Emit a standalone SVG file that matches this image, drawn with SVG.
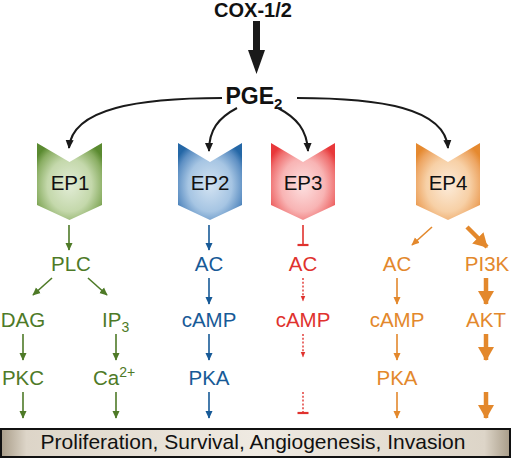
<svg xmlns="http://www.w3.org/2000/svg" width="511" height="458" viewBox="0 0 511 458">
<defs>
<style>
text{font-family:"Liberation Sans",Arial,sans-serif;}
.t{font-size:20.5px;text-anchor:middle;}
.g{fill:#4e7a27}.b{fill:#175a97}.r{fill:#e0322e}.o{fill:#e3882c}
.lg{stroke:#4e7a27;stroke-width:1.6;fill:none;marker-end:url(#ag)}
.lb{stroke:#175a97;stroke-width:1.6;fill:none;marker-end:url(#ab)}
.lo{stroke:#e3882c;stroke-width:1.6;fill:none;marker-end:url(#ao)}
.lot{stroke:#e3882c;stroke-width:4.5;fill:none;marker-end:url(#aot)}
.lr{stroke:#e0322e;stroke-width:1.4;fill:none;stroke-dasharray:2 1.8}
.lrs{stroke:#e0322e;stroke-width:1.6;fill:none}
.bar{stroke:#e0322e;stroke-width:2.2}
.cv{stroke:#1a1a1a;stroke-width:2;fill:none;marker-end:url(#ak)}
</style>
<marker id="ag" viewBox="0 0 10 10" refX="9" refY="5" markerWidth="8" markerHeight="8" markerUnits="userSpaceOnUse" orient="auto"><path d="M0,0.5 L10,5 L0,9.5z" fill="#4e7a27"/></marker>
<marker id="ab" viewBox="0 0 10 10" refX="9" refY="5" markerWidth="8" markerHeight="8" markerUnits="userSpaceOnUse" orient="auto"><path d="M0,0.5 L10,5 L0,9.5z" fill="#175a97"/></marker>
<marker id="ao" viewBox="0 0 10 10" refX="9" refY="5" markerWidth="8" markerHeight="8" markerUnits="userSpaceOnUse" orient="auto"><path d="M0,0.5 L10,5 L0,9.5z" fill="#e3882c"/></marker>
<marker id="ar" viewBox="0 0 10 10" refX="9" refY="5" markerWidth="6" markerHeight="6" markerUnits="userSpaceOnUse" orient="auto"><path d="M0,1 L10,5 L0,9z" fill="#e0322e"/></marker>
<marker id="aot" viewBox="0 0 14 16" refX="13" refY="8" markerWidth="14" markerHeight="16" markerUnits="userSpaceOnUse" orient="auto"><path d="M0,0 L14,8 L0,16z" fill="#e3882c"/></marker>
<marker id="ak" viewBox="0 0 10 10" refX="9" refY="5" markerWidth="9" markerHeight="9" markerUnits="userSpaceOnUse" orient="auto"><path d="M0,0.5 L10,5 L0,9.5z" fill="#1a1a1a"/></marker>
<radialGradient id="gG" cx="50%" cy="55%" r="62%"><stop offset="0" stop-color="#e2ecd6"/><stop offset="0.55" stop-color="#c4d8ab"/><stop offset="0.85" stop-color="#8aae63"/><stop offset="1" stop-color="#5a8a30"/></radialGradient>
<radialGradient id="gB" cx="50%" cy="55%" r="62%"><stop offset="0" stop-color="#d3e3f2"/><stop offset="0.55" stop-color="#a6c5e3"/><stop offset="0.85" stop-color="#5d8fc3"/><stop offset="1" stop-color="#2467a6"/></radialGradient>
<radialGradient id="gR" cx="50%" cy="55%" r="62%"><stop offset="0" stop-color="#fde0e0"/><stop offset="0.55" stop-color="#f8b4b4"/><stop offset="0.85" stop-color="#ef6e6e"/><stop offset="1" stop-color="#e8383a"/></radialGradient>
<radialGradient id="gO" cx="50%" cy="55%" r="62%"><stop offset="0" stop-color="#fcebd9"/><stop offset="0.55" stop-color="#f7d0a6"/><stop offset="0.85" stop-color="#eda562"/><stop offset="1" stop-color="#e5892f"/></radialGradient>
<linearGradient id="gBox" x1="0" y1="0" x2="1" y2="0"><stop offset="0" stop-color="#a99d89"/><stop offset="0.05" stop-color="#ddd5c8"/><stop offset="0.5" stop-color="#efeae2"/><stop offset="0.95" stop-color="#ddd5c8"/><stop offset="1" stop-color="#a99d89"/></linearGradient>
</defs>

<g id="cox">
<text x="253" y="17" style="font-size:20px;font-weight:bold;text-anchor:middle;fill:#111">COX-1/2</text>
</g>
<g id="pge2">
<text x="254" y="104" style="font-size:23px;font-weight:bold;text-anchor:middle;fill:#111">PGE<tspan style="font-size:15px" dy="5">2</tspan></text>
</g>

<g id="ep1"><polygon points="37,143 69.5,162 102,143 102,205 69.5,220 37,205" fill="url(#gG)"/><text class="t" x="70" y="190" fill="#111">EP1</text></g>
<g id="ep2"><polygon points="178,143 210,162 242,143 242,205 210,220 178,205" fill="url(#gB)"/><text class="t" x="210" y="190" fill="#111">EP2</text></g>
<g id="ep3"><polygon points="271,143 303,162 335,143 335,205 303,220 271,205" fill="url(#gR)"/><text class="t" x="303" y="190" fill="#111">EP3</text></g>
<g id="ep4"><polygon points="416,143 448,162 480,143 480,205 448,220 416,205" fill="url(#gO)"/><text class="t" x="448" y="190" fill="#111">EP4</text></g>

<g id="ep1-path">
<text class="t g" x="71" y="271">PLC</text>
<text class="t g" x="23" y="327">DAG</text>
<text class="g" x="102" y="327" style="font-size:20.5px">IP<tspan style="font-size:14px" dy="5">3</tspan></text>
<text class="t g" x="23" y="385">PKC</text>
<text class="g" x="93" y="385" style="font-size:20.5px">Ca<tspan style="font-size:14px" dy="-8">2+</tspan></text>
</g>
<g id="ep2-path">
<text class="t b" x="209" y="271">AC</text>
<text class="t b" x="209" y="327">cAMP</text>
<text class="t b" x="209" y="385">PKA</text>
</g>
<g id="ep3-path">
<text class="t r" x="303" y="271">AC</text>
<text class="t r" x="303" y="327">cAMP</text>
</g>
<g id="ep4-path">
<text class="t o" x="397" y="271">AC</text>
<text class="t o" x="397" y="327">cAMP</text>
<text class="t o" x="397" y="385">PKA</text>
<text class="t o" x="487" y="271">PI3K</text>
<text class="t o" x="486" y="327">AKT</text>
</g>

<g id="outcome">
<rect x="1" y="429" width="509" height="28" fill="url(#gBox)" stroke="#111" stroke-width="2"/>
<text x="253" y="449" style="font-size:21px;text-anchor:middle;fill:#111">Proliferation, Survival, Angiogenesis, Invasion</text>
</g>

<g id="connectors">
<rect x="253" y="21" width="7" height="30" fill="#1a1a1a"/>
<polygon points="248,50 265,50 256.5,74" fill="#1a1a1a"/>
<path class="cv" d="M222,98 C140,98 72,108 69,148"/>
<path class="cv" d="M237,108 C218,118 209,130 209,151"/>
<path class="cv" d="M278,108 C297,118 307,130 308,151"/>
<path class="cv" d="M297,98 C380,98 445,108 448,148"/>

<line class="lg" x1="69" y1="225" x2="69" y2="250"/>
<line class="lg" x1="52" y1="278" x2="33" y2="295"/>
<line class="lg" x1="88" y1="278" x2="107" y2="295"/>
<line class="lg" x1="23" y1="334" x2="23" y2="360"/>
<line class="lg" x1="116" y1="334" x2="116" y2="360"/>
<line class="lg" x1="23" y1="392" x2="23" y2="418"/>
<line class="lg" x1="116" y1="392" x2="116" y2="418"/>

<line class="lb" x1="209" y1="225" x2="209" y2="250"/>
<line class="lb" x1="209" y1="278" x2="209" y2="304"/>
<line class="lb" x1="209" y1="334" x2="209" y2="360"/>
<line class="lb" x1="209" y1="392" x2="209" y2="418"/>

<line class="lrs" x1="303" y1="225" x2="303" y2="245"/>
<line class="bar" x1="297.5" y1="245" x2="308.5" y2="245"/>
<line class="lr" x1="303" y1="278" x2="303" y2="301" marker-end="url(#ar)"/>
<line class="lr" x1="303" y1="334" x2="303" y2="357" marker-end="url(#ar)"/>
<line class="lr" x1="303" y1="392" x2="303" y2="413"/>
<line class="bar" x1="297.5" y1="413" x2="308.5" y2="413"/>

<line class="lo" x1="432" y1="227" x2="412" y2="245"/>
<line class="lo" x1="397" y1="278" x2="397" y2="304"/>
<line class="lo" x1="397" y1="334" x2="397" y2="360"/>
<line class="lo" x1="397" y1="392" x2="397" y2="418"/>
<line class="lot" x1="467" y1="227" x2="487" y2="247"/>
<line class="lot" x1="486" y1="278" x2="486" y2="304"/>
<line class="lot" x1="486" y1="334" x2="486" y2="360"/>
<line class="lot" x1="486" y1="392" x2="486" y2="418"/>
</g>
</svg>
